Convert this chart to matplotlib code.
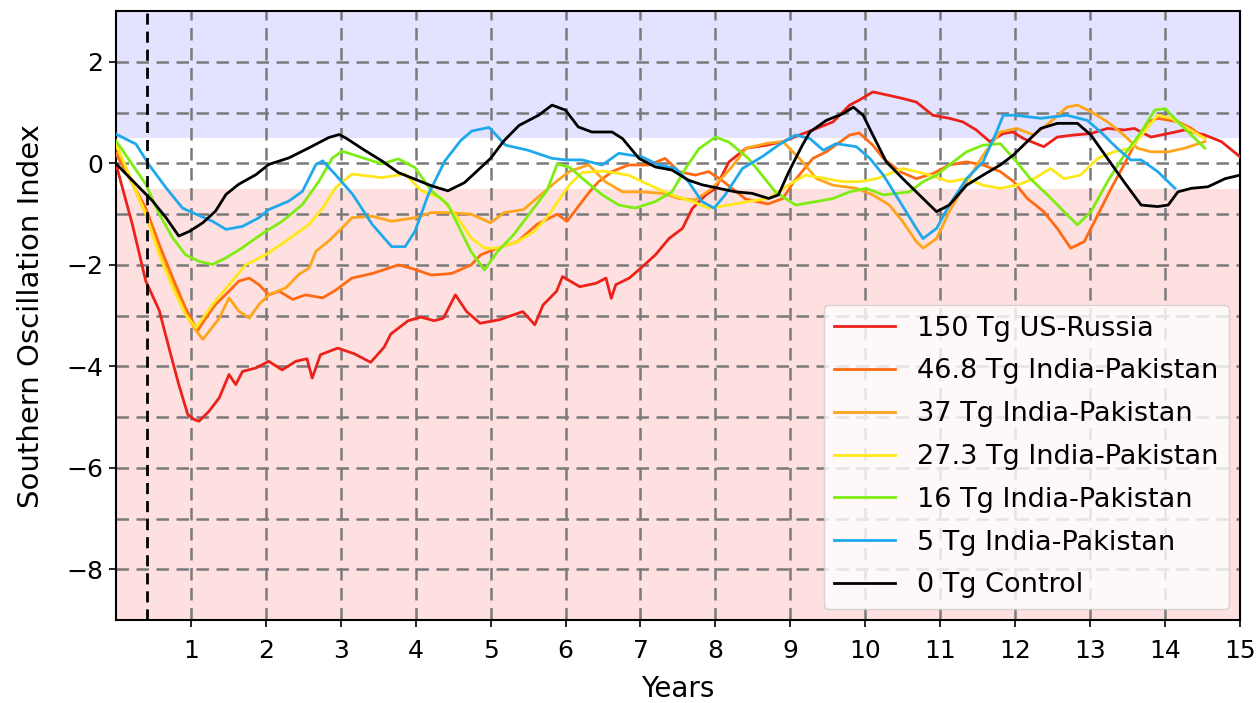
import matplotlib
matplotlib.use("Agg")
import matplotlib.pyplot as plt

# ---- data ----
t_150 = [0, 0.22, 0.4, 0.58, 0.71, 0.84, 0.96, 1.05, 1.11, 1.24, 1.38, 1.51, 1.6, 1.69, 1.87, 2.04, 2.22, 2.4, 2.55, 2.62, 2.73, 2.96, 3.18, 3.4, 3.58, 3.67, 3.9, 4.07, 4.25, 4.37, 4.53, 4.68, 4.86, 5.12, 5.43, 5.59, 5.7, 5.88, 5.96, 6.19, 6.41, 6.54, 6.61, 6.67, 6.85, 7.03, 7.2, 7.38, 7.56, 7.69, 7.87, 8.0, 8.18, 8.41, 8.68, 8.9, 9.12, 9.35, 9.57, 9.79, 9.92, 10.1, 10.32, 10.5, 10.68, 10.9, 11.12, 11.3, 11.48, 11.66, 11.84, 11.97, 12.11, 12.38, 12.56, 12.78, 13.01, 13.23, 13.45, 13.59, 13.81, 14.04, 14.26, 14.53, 14.75, 15.0]
v_150 = [0, -1.2, -2.32, -2.9, -3.64, -4.36, -4.95, -5.05, -5.08, -4.89, -4.62, -4.16, -4.36, -4.1, -4.03, -3.9, -4.07, -3.9, -3.85, -4.23, -3.77, -3.64, -3.75, -3.92, -3.62, -3.36, -3.1, -3.03, -3.1, -3.05, -2.59, -2.92, -3.15, -3.08, -2.92, -3.18, -2.79, -2.52, -2.23, -2.43, -2.36, -2.26, -2.66, -2.39, -2.26, -2.03, -1.8, -1.48, -1.28, -0.89, -0.62, -0.49, 0.03, 0.3, 0.36, 0.43, 0.56, 0.69, 0.82, 1.15, 1.25, 1.41, 1.34, 1.28, 1.21, 0.95, 0.89, 0.82, 0.66, 0.43, 0.59, 0.62, 0.49, 0.33, 0.52, 0.56, 0.59, 0.69, 0.66, 0.69, 0.52, 0.59, 0.66, 0.56, 0.43, 0.13]

t_468 = [0, 0.4, 0.58, 0.76, 0.93, 1.09, 1.2, 1.33, 1.51, 1.64, 1.78, 1.91, 2.04, 2.18, 2.36, 2.53, 2.76, 2.93, 3.15, 3.42, 3.77, 3.95, 4.21, 4.48, 4.74, 4.87, 5.09, 5.36, 5.62, 5.89, 6.02, 6.19, 6.33, 6.44, 6.62, 6.84, 7.11, 7.33, 7.51, 7.73, 7.91, 8.1, 8.4, 8.7, 8.9, 9.05, 9.3, 9.48, 9.79, 9.92, 10.1, 10.24, 10.46, 10.68, 10.9, 11.12, 11.35, 11.57, 11.8, 11.98, 12.16, 12.38, 12.56, 12.74, 12.92, 13.1, 13.28, 13.45, 13.6, 13.77, 13.9, 14.17, 14.35, 14.53]
v_468 = [0.2, -0.88, -1.6, -2.26, -2.85, -3.3, -3.05, -2.78, -2.52, -2.32, -2.26, -2.39, -2.59, -2.52, -2.68, -2.59, -2.65, -2.5, -2.26, -2.17, -2.0, -2.07, -2.2, -2.17, -2.0, -1.8, -1.67, -1.54, -1.2, -1.0, -1.14, -0.81, -0.54, -0.36, -0.16, -0.03, -0.03, 0.1, -0.16, -0.23, -0.16, -0.35, -0.7, -0.8, -0.69, -0.35, 0.1, 0.23, 0.56, 0.6, 0.36, 0.1, -0.16, -0.3, -0.2, -0.03, 0.03, -0.03, -0.16, -0.36, -0.69, -0.95, -1.28, -1.67, -1.54, -1.02, -0.49, -0.03, 0.4, 0.82, 0.89, 0.82, 0.69, 0.49]

t_37 = [0, 0.4, 0.58, 0.76, 0.93, 1.05, 1.16, 1.38, 1.51, 1.64, 1.78, 1.91, 2.04, 2.27, 2.44, 2.58, 2.67, 2.84, 3.02, 3.15, 3.42, 3.68, 3.99, 4.21, 4.43, 4.74, 5.0, 5.18, 5.44, 5.62, 5.89, 6.06, 6.31, 6.53, 6.76, 7.02, 7.29, 7.51, 7.73, 7.95, 8.2, 8.41, 8.7, 8.9, 9.12, 9.35, 9.57, 9.88, 10.1, 10.32, 10.5, 10.68, 10.77, 10.95, 11.12, 11.35, 11.57, 11.8, 12.02, 12.25, 12.47, 12.69, 12.83, 13.01, 13.23, 13.45, 13.63, 13.81, 14.04, 14.26, 14.53]
v_37 = [0.35, -1.0, -1.75, -2.4, -2.95, -3.25, -3.47, -3.05, -2.65, -2.91, -3.05, -2.78, -2.59, -2.45, -2.19, -2.06, -1.73, -1.53, -1.27, -1.07, -1.04, -1.14, -1.07, -0.97, -0.97, -1.0, -1.17, -0.97, -0.91, -0.68, -0.34, -0.15, -0.03, -0.36, -0.56, -0.56, -0.59, -0.69, -0.72, -0.5, -0.1, 0.3, 0.4, 0.43, 0.1, -0.3, -0.43, -0.49, -0.62, -0.82, -1.15, -1.54, -1.67, -1.48, -0.95, -0.36, 0.16, 0.62, 0.69, 0.56, 0.82, 1.11, 1.15, 1.02, 0.82, 0.56, 0.3, 0.23, 0.23, 0.3, 0.43]

t_273 = [0, 0.4, 0.58, 0.76, 0.93, 1.07, 1.29, 1.51, 1.73, 2.0, 2.27, 2.58, 2.76, 2.93, 3.15, 3.55, 3.86, 4.08, 4.34, 4.56, 4.74, 4.92, 5.09, 5.36, 5.58, 5.75, 5.93, 6.06, 6.22, 6.5, 6.84, 7.11, 7.42, 7.69, 7.91, 8.18, 8.44, 8.71, 8.98, 9.2, 9.48, 9.7, 9.92, 10.15, 10.5, 10.68, 10.86, 11.12, 11.35, 11.57, 11.8, 12.02, 12.25, 12.47, 12.65, 12.87, 13.1, 13.32, 13.54, 13.72, 13.9, 14.08, 14.3, 14.53]
v_273 = [0.4, -1.0, -1.8, -2.45, -2.98, -3.24, -2.78, -2.39, -2.0, -1.8, -1.53, -1.2, -0.88, -0.48, -0.21, -0.28, -0.21, -0.54, -0.68, -1.07, -1.47, -1.67, -1.67, -1.54, -1.34, -1.07, -0.68, -0.41, -0.18, -0.15, -0.23, -0.42, -0.62, -0.75, -0.88, -0.82, -0.75, -0.69, -0.42, -0.23, -0.3, -0.36, -0.36, -0.3, -0.1, -0.16, -0.23, -0.36, -0.3, -0.43, -0.49, -0.43, -0.3, -0.1, -0.3, -0.23, 0.1, 0.23, 0.3, 0.62, 0.95, 0.89, 0.69, 0.49]

t_16 = [0, 0.4, 0.58, 0.76, 0.93, 1.11, 1.29, 1.47, 1.69, 1.87, 2.0, 2.22, 2.49, 2.71, 2.89, 3.02, 3.15, 3.55, 3.77, 3.99, 4.21, 4.43, 4.56, 4.74, 4.92, 5.09, 5.31, 5.58, 5.75, 5.89, 6.06, 6.22, 6.49, 6.71, 6.93, 7.2, 7.42, 7.6, 7.78, 8.0, 8.18, 8.44, 8.62, 8.8, 9.07, 9.35, 9.57, 9.79, 10.01, 10.24, 10.59, 10.77, 10.95, 11.12, 11.35, 11.57, 11.8, 12.02, 12.2, 12.43, 12.65, 12.83, 13.01, 13.23, 13.45, 13.68, 13.86, 14.0, 14.17, 14.35, 14.53]
v_16 = [0.45, -0.41, -1.0, -1.47, -1.8, -1.93, -1.99, -1.86, -1.66, -1.47, -1.34, -1.14, -0.81, -0.35, 0.11, 0.24, 0.18, -0.01, 0.09, -0.08, -0.54, -0.81, -1.2, -1.74, -2.1, -1.74, -1.4, -0.87, -0.54, -0.01, -0.08, -0.29, -0.62, -0.82, -0.88, -0.75, -0.56, -0.1, 0.29, 0.52, 0.42, 0.1, -0.23, -0.56, -0.82, -0.75, -0.69, -0.56, -0.49, -0.62, -0.56, -0.36, -0.23, -0.03, 0.23, 0.36, 0.39, 0.03, -0.3, -0.62, -0.95, -1.21, -0.95, -0.36, 0.16, 0.62, 1.05, 1.08, 0.82, 0.56, 0.3]

t_5 = [0, 0.27, 0.44, 0.67, 0.89, 1.07, 1.29, 1.47, 1.69, 1.91, 2.04, 2.31, 2.49, 2.67, 2.76, 2.93, 3.16, 3.42, 3.68, 3.86, 3.99, 4.17, 4.39, 4.6, 4.75, 4.98, 5.2, 5.5, 5.82, 6.0, 6.22, 6.49, 6.71, 7.02, 7.24, 7.47, 7.64, 7.82, 7.98, 8.13, 8.36, 8.62, 8.84, 9.07, 9.26, 9.44, 9.61, 9.88, 10.06, 10.24, 10.46, 10.68, 10.77, 10.95, 11.12, 11.35, 11.57, 11.75, 11.84, 12.0, 12.34, 12.69, 12.96, 13.14, 13.36, 13.54, 13.68, 13.9, 14.13]
v_5 = [0.58, 0.38, -0.02, -0.48, -0.88, -1.0, -1.14, -1.3, -1.24, -1.07, -0.91, -0.74, -0.55, -0.02, 0.05, -0.22, -0.61, -1.2, -1.64, -1.64, -1.34, -0.61, 0.05, 0.45, 0.64, 0.71, 0.36, 0.26, 0.1, 0.07, 0.07, -0.03, 0.2, 0.13, -0.03, -0.1, -0.36, -0.75, -0.88, -0.62, -0.1, 0.13, 0.36, 0.56, 0.49, 0.26, 0.39, 0.33, 0.1, -0.23, -0.75, -1.28, -1.48, -1.28, -0.82, -0.3, 0.03, 0.62, 0.95, 0.95, 0.89, 0.95, 0.85, 0.62, 0.3, 0.07, 0.07, -0.16, -0.49]

t_0 = [0, 0.27, 0.49, 0.67, 0.84, 0.98, 1.16, 1.33, 1.47, 1.64, 1.87, 2.04, 2.31, 2.58, 2.84, 2.98, 3.07, 3.33, 3.55, 3.77, 4.04, 4.21, 4.43, 4.65, 4.87, 5.0, 5.18, 5.38, 5.64, 5.82, 6.0, 6.17, 6.35, 6.62, 6.76, 6.98, 7.2, 7.42, 7.64, 7.82, 8.04, 8.27, 8.49, 8.71, 8.84, 8.98, 9.16, 9.26, 9.48, 9.7, 9.84, 9.97, 10.1, 10.28, 10.5, 10.72, 10.95, 11.12, 11.35, 11.57, 11.8, 11.97, 12.11, 12.34, 12.56, 12.83, 13.01, 13.23, 13.45, 13.68, 13.9, 14.04, 14.17, 14.35, 14.57, 14.8, 15.0]
v_0 = [0, -0.41, -0.74, -1.07, -1.43, -1.34, -1.17, -0.94, -0.61, -0.41, -0.22, -0.02, 0.11, 0.31, 0.51, 0.57, 0.5, 0.25, 0.05, -0.18, -0.34, -0.44, -0.54, -0.38, -0.08, 0.1, 0.45, 0.75, 0.95, 1.15, 1.05, 0.72, 0.62, 0.62, 0.49, 0.1, -0.07, -0.13, -0.33, -0.42, -0.49, -0.56, -0.59, -0.69, -0.62, -0.16, 0.36, 0.62, 0.85, 0.98, 1.11, 0.95, 0.56, 0.03, -0.3, -0.62, -0.95, -0.82, -0.43, -0.23, -0.03, 0.16, 0.36, 0.69, 0.79, 0.79, 0.56, 0.1, -0.36, -0.82, -0.85, -0.82, -0.56, -0.49, -0.46, -0.3, -0.23]

labels = ["150 Tg US-Russia", "46.8 Tg India-Pakistan", "37 Tg India-Pakistan",
          "27.3 Tg India-Pakistan", "16 Tg India-Pakistan", "5 Tg India-Pakistan",
          "0 Tg Control"]
colors = ["#ec2119", "#ff6a12", "#ffa51c", "#ffe819", "#7ded12", "#1ea9ec", "#000000"]
series = [(t_150, v_150), (t_468, v_468), (t_37, v_37), (t_273, v_273),
          (t_16, v_16), (t_5, v_5), (t_0, v_0)]

x_ticks = list(range(1, 16))
y_ticks = [2, 0, -2, -4, -6, -8]
y_grid = [2, 1, 0, -1, -2, -3, -4, -5, -6, -7, -8]
x_grid = list(range(1, 15))
marker_x = 0.42

# ---- figure ----
fig = plt.figure(figsize=(12.59, 7.03), dpi=100)
ax = fig.add_axes([0.092, 0.118, 0.893, 0.866])

ax.axhspan(0.5, 3, color="blue", alpha=0.11, lw=0, zorder=0)
ax.axhspan(-9, -0.5, color="red", alpha=0.12, lw=0, zorder=0)

for g in y_grid:
    ax.axhline(g, color="#7a7a7a", lw=1.8, ls=(0, (5, 3)), zorder=1)
for g in x_grid:
    ax.axvline(g, color="#7a7a7a", lw=1.8, ls=(0, (5, 3)), zorder=1)

for (tt, vv), lab, c in zip(series, labels, colors):
    ax.plot(tt, vv, color=c, lw=2.0, label=lab, zorder=3)

ax.axvline(marker_x, color="black", lw=2.0, ls=(0, (4, 2.5)), zorder=4)

ax.set_xlim(0, 15)
ax.set_ylim(-9, 3)
ax.set_xticks(x_ticks)
ax.set_yticks(y_ticks)
ax.set_yticklabels(["2", "0", "\u22122", "\u22124", "\u22126", "\u22128"])
ax.tick_params(labelsize=18, width=1.2, length=5)
ax.tick_params(axis="x", pad=9)
ax.tick_params(axis="y", pad=4)
for s in ax.spines.values():
    s.set_linewidth(1.5)

ax.set_xlabel("Years", fontsize=20, labelpad=8)
ax.set_ylabel("Southern Oscillation Index", fontsize=21, labelpad=15)

leg = ax.legend(loc="lower right", fontsize=19.5, handlelength=2.25,
                borderaxespad=0.4, labelspacing=0.62, framealpha=0.8)

fig.savefig("out.png", dpi=100)
